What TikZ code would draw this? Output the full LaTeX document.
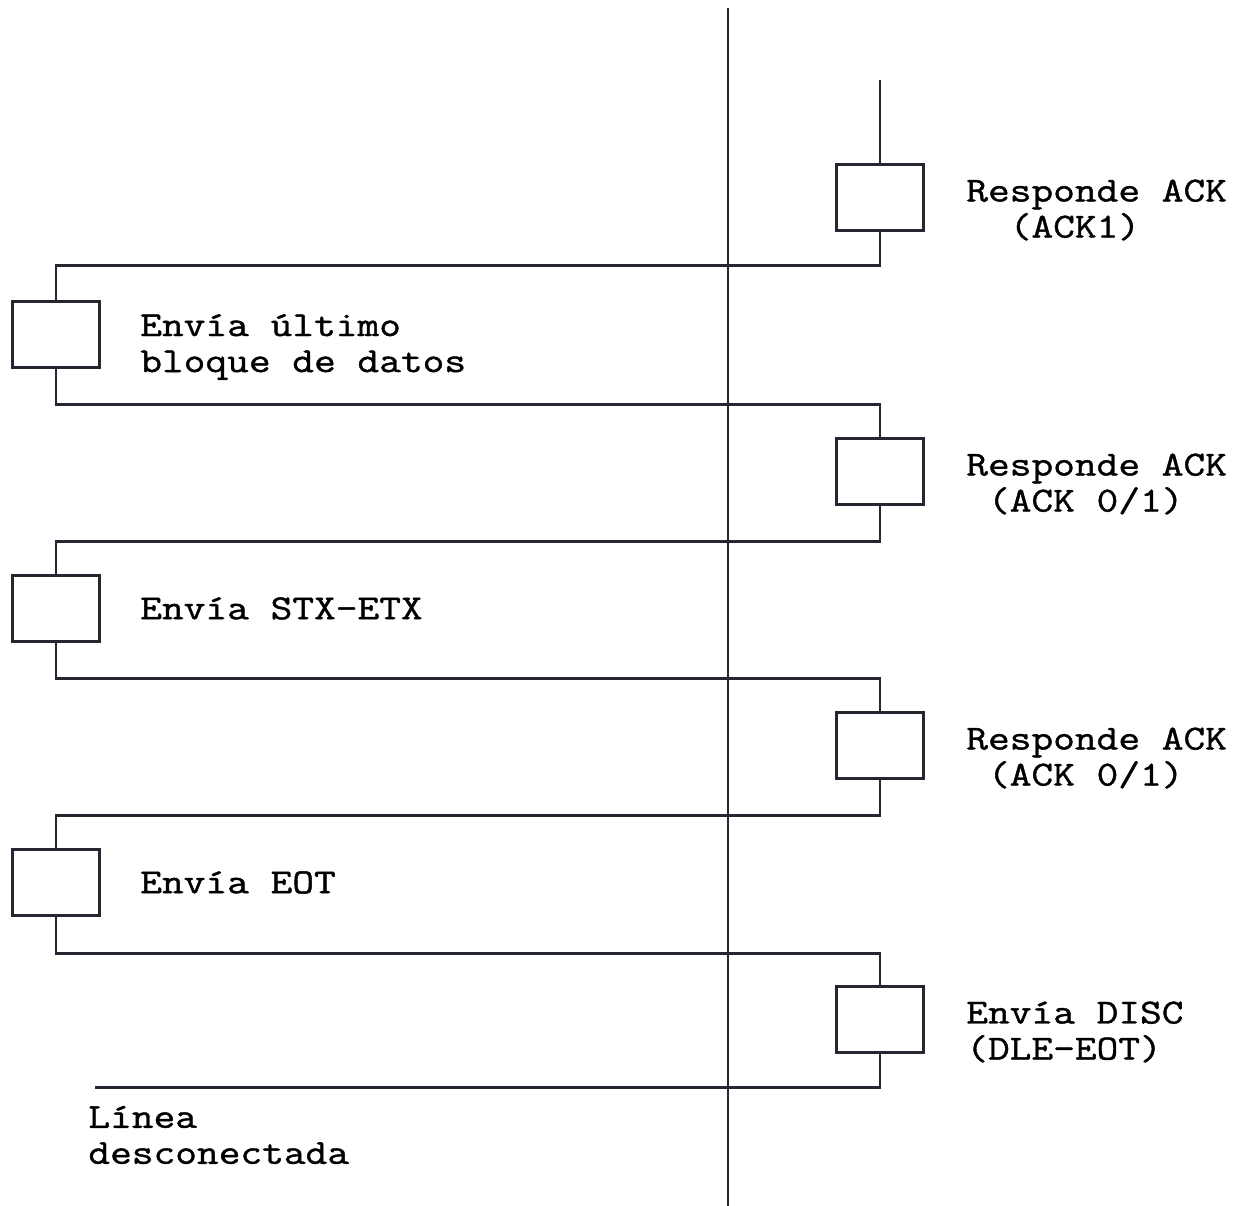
\documentclass[tikz,border=0pt]{standalone}
\usepackage{fontspec}
\newfontfamily\plotfont{Latin Modern Mono}[FakeStretch=1.2,FakeBold=1.2]
\definecolor{inkline}{HTML}{2A2430}
\usetikzlibrary{positioning}

\begin{document}
\begin{tikzpicture}[line width=1.6pt, color=inkline,
    blk/.style={draw,minimum width=1.74cm,minimum height=1.32cm,inner sep=0pt},
    lbl/.style={text=black,font=\plotfont\fontsize{20}{20.5}\selectfont,align=left,inner sep=0pt}]
    \useasboundingbox (0,0) rectangle (24.84,24.12);
    % central line
    \coordinate (top) at (14.56,23.96);
    \coordinate (bot) at (14.56,0);
    \draw (top) -- (bot);
    % boxes
    \node[blk] (r1) at (17.6,20.17) {};
    \node[blk] (l1) at (1.12,17.43) {};
    \node[blk] (r2) at (17.6,14.69) {};
    \node[blk] (l2) at (1.12,11.95) {};
    \node[blk] (r3) at (17.6,9.21) {};
    \node[blk] (l3) at (1.12,6.47) {};
    \node[blk] (r4) at (17.6,3.73) {};
    % track
    \coordinate (start) at (17.6,22.52);
    \coordinate (end) at (1.9,2.37);
    \draw (start) -- (r1.north);
    \draw (r1.south) -- ++(0,-0.68) -| (l1.north);
    \draw (l1.south) -- ++(0,-0.72) -| (r2.north);
    \draw (r2.south) -- ++(0,-0.72) -| (l2.north);
    \draw (l2.south) -- ++(0,-0.72) -| (r3.north);
    \draw (r3.south) -- ++(0,-0.72) -| (l3.north);
    \draw (l3.south) -- ++(0,-0.74) -| (r4.north);
    \draw (r4.south) |- (end);
    % labels
    \node[lbl, right=0.8cm of r1, yshift=-0.25cm] (t1) {Responde ACK\\~~(ACK1)};
    \node[lbl, right=0.76cm of l1, yshift=-0.25cm] (t2) {Envía último\\bloque de datos};
    \node[lbl, right=0.8cm of r2, yshift=-0.25cm] (t3) {Responde ACK\\~(ACK 0/1)};
    \node[lbl, right=0.76cm of l2] (t4) {Envía STX-ETX};
    \node[lbl, right=0.8cm of r3, yshift=-0.25cm] (t5) {Responde ACK\\~(ACK 0/1)};
    \node[lbl, right=0.76cm of l3] (t6) {Envía EOT};
    \node[lbl, right=0.8cm of r4, yshift=-0.25cm] (t7) {Envía DISC\\(DLE-EOT)};
    \node[lbl, anchor=north west] (off) at ([xshift=-0.16cm,yshift=-0.34cm]end) {Línea\\desconectada};
\end{tikzpicture}
\end{document}
